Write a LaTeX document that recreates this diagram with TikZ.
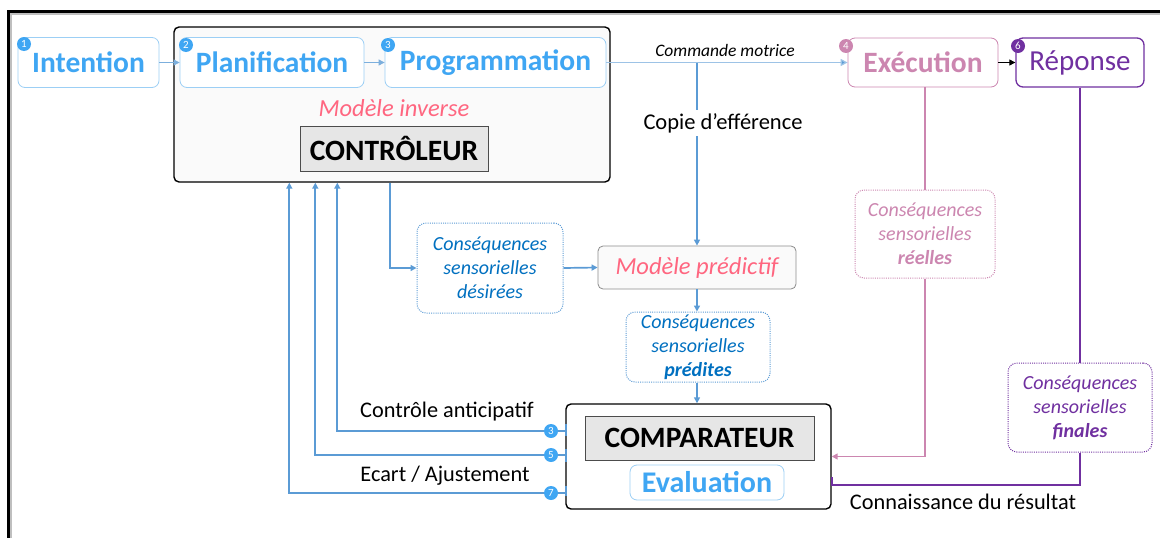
\documentclass[tikz,border=0pt]{standalone}
\usepackage{fontspec}
\setmainfont{Carlito}
\usetikzlibrary{arrows.meta}
\definecolor{lbBorder}{HTML}{9CCFF5}
\definecolor{lbText}{HTML}{3FA6F3}
\definecolor{conBlue}{HTML}{5B9BD5}
\definecolor{cmdBlue}{HTML}{9DC3E6}
\definecolor{dkBlue}{HTML}{0070C0}
\definecolor{pinkRed}{HTML}{FF6680}
\definecolor{mauve}{HTML}{CC86B0}
\definecolor{purp}{HTML}{7030A0}
\definecolor{grayFill}{HTML}{E6E6E6}
\tikzset{
  topbox/.style={draw=lbBorder, line width=0.8pt, rounded corners=7pt, fill=white, text=lbText, font=\fontsize{29.5}{32}\selectfont\bfseries, inner sep=0pt},
  bigbox/.style={draw=black, line width=1.4pt, rounded corners=5pt, inner sep=0pt},
  graybox/.style={draw=black!70, line width=0.8pt, fill=grayFill, inner sep=0pt, font=\fontsize{29.5}{32}\selectfont\bfseries},
  dotbox/.style={draw=#1, line width=1pt, dash pattern=on 1pt off 1.2pt, rounded corners=9pt, fill=white, text=#1, align=center, inner sep=0pt, font=\fontsize{20}{24}\selectfont\itshape},
  badge/.style={circle, fill=#1, text=white, inner sep=0pt, minimum size=14pt, font=\fontsize{11}{11}\selectfont},
  con/.style={draw=conBlue, line width=1.7pt},
  tip/.style={-{Triangle[length=6pt,width=6pt]}},
  lbl/.style={font=\fontsize{#1}{#1}\selectfont, inner sep=1pt},
}
\begin{document}
\begin{tikzpicture}[x=1pt,y=-1pt]
\useasboundingbox (0,0) rectangle (1160,538);
% frame
\draw[black!25, line width=2pt] (1160,14) -- (11,14) -- (11,538);
\draw[black, line width=3pt] (1160,11) -- (8,11) -- (8,538);

% controleur big box
\node[bigbox, fill=black!2, minimum width=436pt, minimum height=155pt] (ctrl) at (392,104.5) {};
\node[topbox, minimum width=141pt, minimum height=50pt] (intent) at (88.5,62.5) {Intention};
\node[topbox, minimum width=184pt, minimum height=50pt] (planif) at (272,62.5) {Planification};
\node[topbox, minimum width=221pt, minimum height=50pt] (prog) at (495.5,62.5) {Programmation};
\node[text=pinkRed, font=\fontsize{24.5}{26}\selectfont\itshape] (modinv) at (394,108) {Modèle inverse};
\node[graybox, minimum width=188pt, minimum height=45pt] (ctrlg) at (394,148.5) {CONTRÔLEUR};

% execution, reponse
\node[topbox, draw=mauve, text=mauve, minimum width=150pt, minimum height=49pt] (exec) at (923,62.5) {Exécution};
\node[topbox, draw=purp, text=purp, font=\fontsize{29}{32}\selectfont, line width=1.3pt, minimum width=128pt, minimum height=49pt] (rep) at (1080,62.5) {\raisebox{-2pt}{Réponse}};

% badges top
\node[badge=lbText] (b1) at (24,44) {1};
\node[badge=lbText] (b2) at (186,45) {2};
\node[badge=lbText] (b3) at (388,45) {3};
\node[badge=mauve] (b4) at (846,46) {4};
\node[badge=purp] (b6) at (1018,46) {6};

% top arrows
\draw[draw=conBlue!80, line width=0.9pt, -{Triangle[length=6pt,width=6pt]}] (intent.east) -- (planif.west);
\draw[draw=conBlue!80, line width=0.9pt, -{Triangle[length=6pt,width=6pt]}] (planif.east) -- (prog.west);
\draw[draw=cmdBlue, line width=1.3pt, -{Triangle[length=7pt,width=7pt,fill=conBlue]}] (prog.east) -- (exec.west);
\node[font=\fontsize{17.5}{18}\selectfont\itshape, inner sep=1pt] (cmdlbl) at (725,50) {Commande motrice};
\draw[black, line width=1pt, -{Triangle[length=6pt,width=6pt]}] (exec.east) -- (rep.west);

% predictive branch
\node[draw=black!45, line width=0.8pt, rounded corners=5pt, fill=black!2, minimum width=198pt, minimum height=43pt, text=pinkRed, font=\fontsize{24.5}{26}\selectfont\itshape] (pred) at (697,267.5) {Modèle prédictif};
\coordinate (cpy) at (697,62.5);
\draw[con, tip] (cpy) -- (pred.north);
\node[fill=white, font=\fontsize{22.5}{24}\selectfont, inner sep=3pt] (cpylbl) at (723,123) {Copie d’efférence};

\node[dotbox=dkBlue, draw=conBlue, minimum width=146pt, minimum height=90pt] (desir) at (490,268) {Conséquences\\sensorielles\\désirées};
\node[dotbox=dkBlue, draw=conBlue, minimum width=144pt, minimum height=70pt] (predit) at (698,347) {Conséquences\\sensorielles\\\textbf{prédites}};

\draw[con, tip] ([xshift=217pt]ctrl.south west) |- (desir.west);
\draw[con, tip] (desir.east) -- (pred.west);
\draw[con, tip] (pred.south) -- (predit.north -| pred.south);

% comparateur
\node[bigbox, fill=white, minimum width=265pt, minimum height=105pt] (comp) at (698.5,456.5) {};
\node[graybox, minimum width=229pt, minimum height=44pt] (compg) at (699.5,438) {COMPARATEUR};
\node[topbox, minimum width=154pt, minimum height=35pt, font=\fontsize{30}{32}\selectfont\bfseries] (eval) at (707,482.5) {Evaluation};
\draw[con, tip] (predit.south -| pred.south) -- (comp.north -| pred.south);

% feedback lines
\coordinate (f3) at (566,431);
\coordinate (f5) at (566,455);
\coordinate (f7) at (566,493);
\draw[con, tip] (f3) -| ([xshift=164pt]ctrl.south west);
\draw[con, tip] (f5) -| ([xshift=142pt]ctrl.south west);
\draw[con, tip] (f7) -| ([xshift=116pt]ctrl.south west);
\draw[con] (566,424) -- (566,436);
\draw[con] (566,449) -- (566,462);
\draw[con] (566,486) -- (566,496);
\node[badge=lbText] (c3) at (551,431) {3};
\node[badge=lbText] (c5) at (551,455) {5};
\node[badge=lbText] (c7) at (551,493) {7};
\node[lbl=22.3] (antic) at (447,412) {Contrôle anticipatif};
\node[lbl=22.3] (ecart) at (445,476) {Ecart / Ajustement};

% real consequences
\node[dotbox=mauve, minimum width=140pt, minimum height=88pt] (reel) at (925,234) {Conséquences\\sensorielles\\\textbf{réelles}};
\draw[draw=mauve, line width=1.8pt] (exec.south -| reel.north) -- (reel.north);
\draw[draw=mauve, line width=1.8pt, tip] (reel.south) |- (comp.east);

% final consequences
\node[dotbox=purp, minimum width=144pt, minimum height=89pt] (fin) at (1080,407.5) {Conséquences\\sensorielles\\\textbf{finales}};
\draw[draw=purp, line width=1.8pt] (rep.south) -- (fin.north);
\draw[draw=purp, line width=1.8pt] (fin.south) |- ([yshift=-28.5pt]comp.east) -- ++(0,-8);
\node[lbl=22.3] (conn) at (963,502) {Connaissance du résultat};
\end{tikzpicture}
\end{document}
